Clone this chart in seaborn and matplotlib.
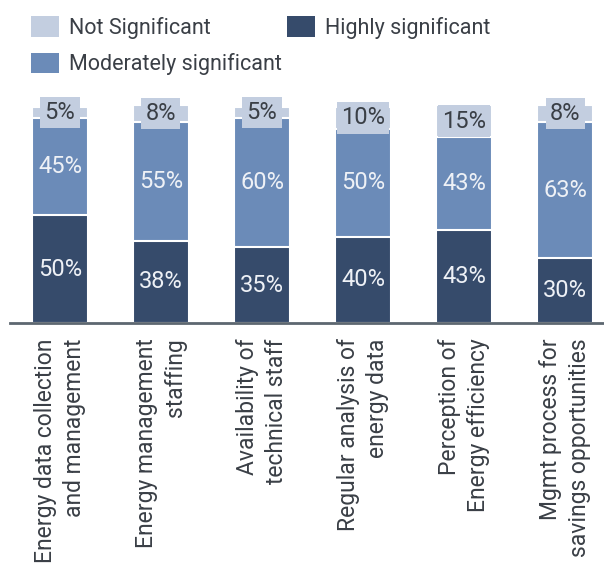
import matplotlib
matplotlib.use("Agg")
import matplotlib.pyplot as plt
from matplotlib.patches import Patch
import pandas as pd
import seaborn as sns

categories = ["Energy data collection\nand management",
              "Energy management\nstaffing",
              "Availability of\ntechnical staff",
              "Regular analysis of\nenergy data",
              "Perception of\nEnergy efficiency",
              "Mgmt process for\nsavings opportunities"]
highly = [50, 38, 35, 40, 43, 30]
moderately = [45, 55, 60, 50, 43, 63]
not_sig = [5, 8, 5, 10, 15, 8]

c_dark = "#364b6b"
c_mid = "#6b8bb8"
c_light = "#c3cee0"
txt = "#3a3f46"

sns.set_theme(style="white")
plt.rcParams['font.family'] = ['Roboto', 'DejaVu Sans']

df = pd.DataFrame({"cat": categories, "high": highly,
                   "mod": moderately, "not": not_sig})
df["s2"] = df["high"] + df["mod"]
df["s3"] = df["s2"] + df["not"]

fig = plt.figure(figsize=(6.04, 5.72), dpi=100)
ax = fig.add_axes([10 / 604, 1 - 323 / 572, 594 / 604, 237.6 / 572])

# draw cumulative totals back to front
sns.barplot(data=df, x="cat", y="s3", color=c_light, width=0.55,
            edgecolor="white", linewidth=1.5, saturation=1, ax=ax)
sns.barplot(data=df, x="cat", y="s2", color=c_mid, width=0.55,
            edgecolor="white", linewidth=1.5, saturation=1, ax=ax)
sns.barplot(data=df, x="cat", y="high", color=c_dark, width=0.55,
            edgecolor="white", linewidth=1.5, saturation=1, ax=ax)

ax.set_ylim(0, 110)
ax.set_xlim(-0.495, 5.386)
ax.set_xlabel("")
ax.set_ylabel("")
ax.set_yticks([])
for s in ["top", "right", "left"]:
    ax.spines[s].set_visible(False)
ax.spines["bottom"].set_color("#5d6770")
ax.spines["bottom"].set_linewidth(2)

ax.tick_params(axis="x", length=0, pad=11)
ax.set_xticks(range(len(categories)))
ax.set_xticklabels(categories, rotation=90, ha="center", va="top",
                   multialignment="right", fontsize=16.5, color=txt,
                   linespacing=1.35)

for i in range(len(categories)):
    h, m, n = highly[i], moderately[i], not_sig[i]
    ax.text(i, h / 2, f"{h}%", ha="center", va="center", fontsize=17,
            color="#eef1f6")
    ax.text(i, h + m / 2, f"{m}%", ha="center", va="center", fontsize=17,
            color="#eef1f6")
    ax.text(i, h + m + n / 2, f"{n}%", ha="center", va="center", fontsize=17,
            color=txt,
            bbox=dict(boxstyle="square,pad=0.18", fc=c_light, ec="none"))

leg_kw = dict(frameon=False, fontsize=15.5, handlelength=1.3, handleheight=1.1,
              handletextpad=0.45, labelspacing=0.65, borderaxespad=0, borderpad=0,
              labelcolor=txt)
fig.legend(handles=[Patch(fc=c_light, ec="none", label="Not Significant"),
                    Patch(fc=c_mid, ec="none", label="Moderately significant")],
           loc="upper left", bbox_to_anchor=(31 / 604, 1 - 16 / 572), **leg_kw)
fig.legend(handles=[Patch(fc=c_dark, ec="none", label="Highly significant")],
           loc="upper left", bbox_to_anchor=(287 / 604, 1 - 16 / 572), **leg_kw)

fig.savefig("out.png", dpi=100)
